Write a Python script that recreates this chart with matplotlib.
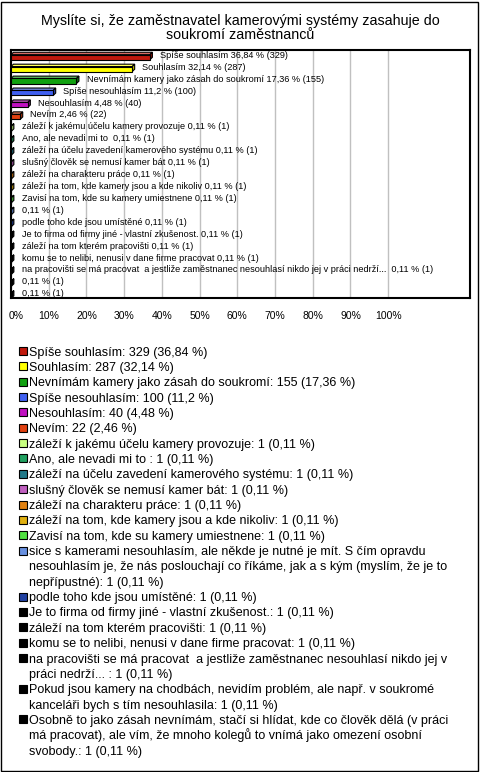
import textwrap
import matplotlib
matplotlib.use('Agg')
import matplotlib.pyplot as plt
from matplotlib.patches import Rectangle, Polygon
from matplotlib.transforms import ScaledTranslation
from matplotlib.colors import to_rgb

plt.rcParams['font.family'] = ['Liberation Sans', 'DejaVu Sans']

title = 'Myslíte si, že zaměstnavatel kamerovými systémy zasahuje do\nsoukromí zaměstnanců'

# answers (legend names), counts and percentages
answers = [
    'Spíše souhlasím',
    'Souhlasím',
    'Nevnímám kamery jako zásah do soukromí',
    'Spíše nesouhlasím',
    'Nesouhlasím',
    'Nevím',
    'záleží k jakému účelu kamery provozuje',
    'Ano, ale nevadi mi to ',
    'záleží na účelu zavedení kamerového systému',
    'slušný člověk se nemusí kamer bát',
    'záleží na charakteru práce',
    'záleží na tom, kde kamery jsou a kde nikoliv',
    'Zavisí na tom, kde su kamery umiestnene',
    'sice s kamerami nesouhlasím, ale někde je nutné je mít. S čím opravdu nesouhlasím je, '
    'že nás poslouchají co říkáme, jak a s kým (myslím, že je to nepřípustné)',
    'podle toho kde jsou umístěné',
    'Je to firma od firmy jiné - vlastní zkušenost.',
    'záleží na tom kterém pracovišti',
    'komu se to nelibi, nenusi v dane firme pracovat',
    'na pracovišti se má pracovat  a jestliže zaměstnanec nesouhlasí nikdo jej v práci nedrží... ',
    'Pokud jsou kamery na chodbách, nevidím problém, ale např. v soukromé kanceláři bych s tím nesouhlasila',
    'Osobně to jako zásah nevnímám, stačí si hlídat, kde co člověk dělá (v práci má pracovat), '
    'ale vím, že mnoho kolegů to vnímá jako omezení osobní svobody.',
]
counts = [329, 287, 155, 100, 40, 22, 1, 1, 1, 1, 1, 1, 1, 1, 1, 1, 1, 1, 1, 1, 1]
percents = [36.84, 32.14, 17.36, 11.2, 4.48, 2.46, 0.11, 0.11, 0.11, 0.11, 0.11,
            0.11, 0.11, 0.11, 0.11, 0.11, 0.11, 0.11, 0.11, 0.11, 0.11]
# text shown next to the bars (long answers are left out)
bar_names = answers[:13] + [''] + answers[14:19] + ['', '']
colors = ['#c0180c', '#ffff00', '#10a010', '#4060f0', '#c010c0', '#e04010',
          '#c8ff80', '#20a060', '#207888', '#c060c0', '#e08010', '#e0b010',
          '#50e040', '#6890e0', '#2040a0', '#000000', '#000000', '#000000',
          '#000000', '#000000', '#000000']
x_ticks = [0, 10, 20, 30, 40, 50, 60, 70, 80, 90, 100]

W, H = 480, 772
fig = plt.figure(figsize=(W / 100, H / 100), dpi=100)
fig.patches.append(Rectangle((1 / W, 1 / H), 477 / W, 769 / H, transform=fig.transFigure,
                             fill=False, edgecolor='black', lw=1))
fig.text(0.5, 1 - 28 / H, title, ha='center', va='center', fontsize=10.3, linespacing=1.05)

ax = fig.add_axes([11 / W, 1 - 298 / H, 459 / W, 248 / H])
ax.set_xlim(0, 121.7)
ax.set_ylim(20.3, -0.5)
for s in ax.spines.values():
    s.set_linewidth(1.5)
ax.set_xticks(x_ticks)
ax.set_xticklabels([f'{t}%' for t in x_ticks], fontsize=7.5)
ax.tick_params(axis='x', length=0, pad=9)
ax.set_yticks([])
ax.grid(axis='x', color='#c0c0c0', lw=1)
ax.set_axisbelow(True)
lbl0 = ax.get_xticklabels()[0]
lbl0.set_transform(lbl0.get_transform() + ScaledTranslation(5 / 100, 0, fig.dpi_scale_trans))


def shade(c, f):
    r, g, b = to_rgb(c)
    if f > 1:
        return tuple(x + (1 - x) * (f - 1) for x in (r, g, b))
    return (r * f, g * f, b * f)


h, dx, dy = 0.42, 0.65, 0.2
for i, (v, c) in enumerate(zip(percents, colors)):
    top = i - h / 2 + dy / 2
    bot = top + h
    ax.add_patch(Polygon([(0, top), (v, top), (v + dx, top - dy), (dx, top - dy)],
                         facecolor=shade(c, 1.35), edgecolor='black', lw=0.8, zorder=3))
    ax.add_patch(Polygon([(v, top), (v + dx, top - dy), (v + dx, bot - dy), (v, bot)],
                         facecolor=shade(c, 0.7), edgecolor='black', lw=0.8, zorder=3))
    ax.add_patch(Rectangle((0, top), v, h, facecolor=c, edgecolor='black', lw=0.8, zorder=4))
    pct = f'{v:g}'.replace('.', ',')
    txt = f'{bar_names[i]} {pct} % ({counts[i]})'.lstrip()
    ax.annotate(txt, (v + dx, i - 0.05), xytext=(5.5, 0), textcoords='offset points',
                va='center', ha='left', fontsize=6.6, zorder=5)

# legend below the chart
y = 351
step = 15.35
for name, n, v, c in zip(answers, counts, percents, colors):
    pct = f'{v:g}'.replace('.', ',')
    lines = textwrap.wrap(f'{name}: {n} ({pct} %)', width=75)
    fig.patches.append(Rectangle((19 / W, 1 - (y + 4) / H), 8 / W, 8 / H, transform=fig.transFigure,
                                 facecolor=c, edgecolor='black', lw=0.8))
    for ln in lines:
        fig.text(29 / W, 1 - (y + 4.5) / H, ln, ha='left', va='baseline', fontsize=9)
        y += step

fig.savefig('out.png', dpi=100)
